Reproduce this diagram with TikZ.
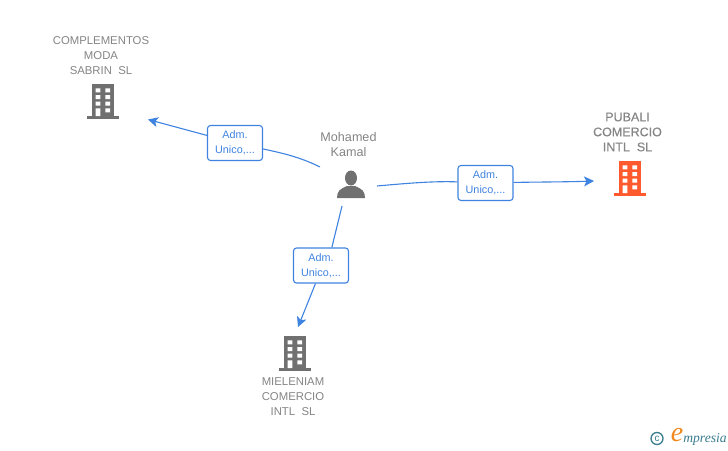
\documentclass[tikz,border=0pt]{standalone}
\usepackage{fontspec}
\setmainfont{Liberation Sans}
\newfontfamily\logofont{Liberation Serif}
\newfontfamily\mainfakebold[FakeBold=0.25]{Liberation Sans}
\usetikzlibrary{arrows.meta}
\definecolor{edgeblue}{HTML}{3F83E0}
\definecolor{txtgray}{HTML}{858585}
\definecolor{icongray}{HTML}{707070}
\definecolor{iconorange}{HTML}{FF5A2D}
\definecolor{logoteal}{HTML}{3A7D90}
\definecolor{logoorange}{HTML}{F08A1E}
\tikzset{
  company/.style={align=center,inner sep=0pt,text=txtgray,font=\fontsize{11.35}{15}\selectfont},
  maincompany/.style={align=center,inner sep=0pt,text=txtgray,font=\mainfakebold\fontsize{12.5}{15}\selectfont},
  person/.style={align=center,inner sep=0pt,text=txtgray,font=\fontsize{12.6}{15.5}\selectfont},
  role/.style={draw=edgeblue,line width=1.1pt,rounded corners=3pt,fill=white,minimum width=55pt,minimum height=35pt,inner sep=0pt,align=center,text=edgeblue,font=\fontsize{10.8}{15}\selectfont},
  link/.style={draw=edgeblue,line width=1.1pt},
  tiplink/.style={link,-{Stealth[length=10pt,width=10pt,inset=2.5pt]}},
  pics/building/.style={code={
    \fill[#1] (-11.5,0) rectangle (11,32);
    \fill[#1] (-16,32) rectangle (16,34.5);
    \fill[white] (-7.3,4.3) rectangle (-2.7,8.3) (2.4,4.3) rectangle (7,8.3)
      (-7.3,11) rectangle (-2.7,15) (2.4,11) rectangle (7,15)
      (-7.3,17.7) rectangle (-2.7,21.7) (2.4,17.7) rectangle (7,21.7)
      (-7.3,24.3) rectangle (-2.7,32) (2.4,24.3) rectangle (7,28.3);
  }},
}
\begin{document}
\begin{tikzpicture}[x=1pt,y=-1pt]
\useasboundingbox[fill=white] (0,0) rectangle (728,450);
% companies
\node[company] (comp1) at (101,55.5) {COMPLEMENTOS\\MODA\\SABRIN\ \ SL};
\pic at (103,84) {building=icongray};
\node[maincompany] (comp2) at (627.5,132) {PUBALI\\COMERCIO\\INTL\ \ SL};
\pic at (630,161) {building=iconorange};
\node[company] (comp3) at (293,397) {MIELENIAM\\COMERCIO\\INTL\ \ SL};
\pic at (295,336) {building=icongray};
% person
\node[person] (boss) at (348.5,144.5) {Mohamed\\Kamal};
\fill[icongray] (351,178) ellipse (6 and 7.5);
\fill[icongray] (337,198) .. controls (337,191) and (340,189) .. (347,186) -- (355,186) .. controls (362,189) and (365,191) .. (365,198) -- cycle;
% free ends
\coordinate (m1) at (320,167);
\coordinate (m2) at (377,186);
\coordinate (m3) at (342,206);
\coordinate (t1) at (148,119.5);
\coordinate (t2) at (594,181);
\coordinate (t3) at (298,327);
% role boxes
\node[role] (r1) at (235,143) {Adm.\\Unico,...};
\node[role] (r2) at (485.5,183) {Adm.\\Unico,...};
\node[role] (r3) at (321,265.5) {Adm.\\Unico,...};
% connectors
\draw[link] (m1) .. controls (300,157) and (282,153) .. (r1);
\draw[tiplink] (r1) -- (t1);
\draw[link] (m2) .. controls (410,183) and (435,181) .. (r2);
\draw[tiplink] (r2) .. controls (535,182) and (565,182) .. (t2);
\draw[link] (m3) -- (r3.59);
\draw[tiplink] (r3.253) -- (t3);
% logo
\node[draw=logoteal,line width=1.3pt,circle,minimum size=12pt,inner sep=0pt,text=logoteal,font=\fontsize{10}{10}\selectfont] (copy) at (657,438.5) {c};
\node[inner sep=0pt,text=logoorange,font=\logofont\itshape\fontsize{28}{28}\selectfont] (logoe) at (677,435.5) {e};
\node[inner sep=0pt,text=logoteal,font=\logofont\itshape\fontsize{13.6}{15}\selectfont] (logot) at (705,439) {mpresia};
\end{tikzpicture}
\end{document}
